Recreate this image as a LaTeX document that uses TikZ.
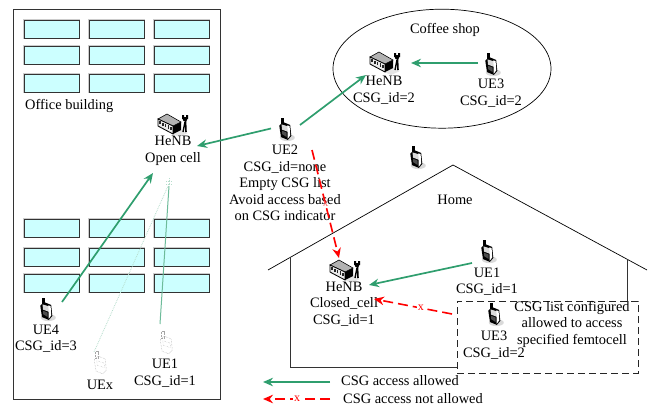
\documentclass[tikz,border=0pt]{standalone}
\usepackage{fontspec}
\setmainfont{Liberation Serif}
\usetikzlibrary{arrows.meta,shapes.geometric}
\definecolor{grn}{HTML}{2F9E6E}
\definecolor{win}{HTML}{CCFFFF}
\tikzset{
  lbl/.style={inner sep=0pt,font=\fontsize{14.4}{16.5}\selectfont,align=center},
  wnd/.style={draw=black!80,fill=win,line width=0.9pt},
  okarrow/.style={draw=grn,line width=1.7pt,-{Stealth[length=10pt,width=8.5pt]}},
  noarrow/.style={draw=red,line width=1.6pt,dash pattern=on 10pt off 5pt,-{Stealth[length=10pt,width=8.5pt]}},
  xmark/.style={inner sep=1pt,fill=white,text=red,font=\fontsize{12}{12}\selectfont},
  pics/phone/.style={code={
    \begin{scope}[scale=1.15]
    \fill[black!25,opacity=.6] (2,7.5) ellipse (6.5 and 3);
    \fill[black] (-5,-3) -- (-1.5,-6) -- (4.5,-3.5) -- (5.5,6) -- (2.5,9.5) -- (-3.5,7) -- cycle;
    \fill[black] (-3.8,-10) rectangle (-1.2,-4);
    \fill[white!85!black] (-3,-4) -- (3.5,-2) -- (4,3) -- (-2.6,.5) -- cycle;
    \fill[white] (4,-2.5) -- (4.6,5.5) -- (2.4,8.5) -- (2.1,-3.2) -- cycle;
    \fill[black!70] (-2.6,1.5) -- (1.3,3) -- (1.5,7) -- (-2.4,4.5) -- cycle;
    \end{scope}
  }},
  pics/fadedphone/.style={code={
    \begin{scope}[scale=1.15]
    \draw[black!35,line width=.5pt,densely dotted] (-5,-3) -- (-1.5,-6) -- (4.5,-3.5) -- (5.5,6) -- (2.5,9.5) -- (-3.5,7) -- cycle;
    \draw[black!35,line width=.5pt,densely dotted] (-3.8,-10) rectangle (-1.2,-4);
    \draw[black!30,line width=.4pt,densely dotted] (-2.8,-2) -- (3.5,0) -- (4,4) -- (-2.4,2) -- cycle;
    \end{scope}
  }},
  pics/router/.style={code={
    \fill[black!20,opacity=.5] (-14,3) -- (7,13) -- (16,9) -- (-4,0) -- cycle;
    \fill[black!30,draw=black,line width=.6pt] (-14,-5) -- (-5,-10) -- (9,-2) -- (1,2) -- cycle;
    \fill[white!92!black,draw=black,line width=.8pt] (-14,-5) -- (1,2) -- (1,10) -- (-14,2) -- cycle;
    \fill[black] (1,2) -- (9,-2) -- (9,6) -- (1,10) -- cycle;
    \foreach \i in {0,...,4}{\fill[black!85] (-12.8+2.8*\i,-2.8+1.4*\i) rectangle +(1.5,3.2);}
    \draw[black,line width=1.4pt] (11,8) -- (13,-2);
    \draw[black,line width=1.6pt] (14,8) -- (13.5,-3);
    \fill[black] (10,-9) rectangle (12,-5) (14,-9) rectangle (16,-5);
    \fill[black] (10,-7) -- (16,-7) -- (14.5,-3) -- (11.5,-3) -- cycle;
  }},
}
\begin{document}
\begin{tikzpicture}[x=1pt,y=-1pt]
\useasboundingbox (0,0) rectangle (649,407);
% office
\node[draw=black!80,line width=.9pt,minimum width=206.5pt,minimum height=389.5pt,inner sep=0pt] (office) at (116.7,204.2) {};
\foreach \x/\n in {24/a,89/b,154/c}{
  \foreach \y/\m in {20/a,46/b,74/c,219/d,248/e,274/f}{
    \fill[black!20] (\x-1,\y-1) rectangle +(57,20);
    \node[wnd,minimum width=55pt,minimum height=18pt,inner sep=0pt,anchor=north west] (w\n\m) at (\x,\y) {};
  }
}
\node[lbl,anchor=west] (officelbl) at (25,106) {Office building};
% coffee shop
\node[draw=black,line width=.7pt,ellipse,minimum width=218pt,minimum height=119pt,inner sep=0pt] (coffee) at (442,68.7) {};
\node[lbl] (coffeelbl) at (445,30) {Coffee shop};
% house
\coordinate (roofl) at (268,270);
\coordinate (roofp) at (453,165);
\coordinate (roofr) at (647,270);
\draw[line width=.7pt] (roofl) -- (roofp) -- (roofr);
\coordinate (walltl) at (290,257);
\coordinate (wallbl) at (290,367);
\coordinate (wallbr) at (457,367);
\coordinate (walltr) at (627,259);
\coordinate (wallmr) at (627,301);
\draw[line width=.8pt,black!80] (walltl) -- (wallbl) -- (wallbr);
\draw[line width=.8pt,black!80] (walltr) -- (wallmr);
\node[lbl] (homelbl) at (455,200) {Home};
% dashed box
\node[draw=black!85,line width=.9pt,dash pattern=on 7pt off 4pt,minimum width=181pt,minimum height=72pt,inner sep=0pt] (dbox) at (547.5,337) {};
% icons
\path pic at (172,124) {router}; \coordinate (rO) at (197,146);
\path pic at (384,62) {router}; \coordinate (rC) at (366,75);
\path pic at (344,270) {router};
\path pic at (285,129) {phone};
\path pic at (491,64) {phone};
\path pic at (416,157) {phone};
\path pic at (487,251) {phone};
\path pic at (494,314) {phone};
\path pic at (46,309) {phone};
\path pic at (100,363) {fadedphone};
\path pic at (166,343) {fadedphone};
% faded mast
\draw[grn!35,line width=.6pt,densely dotted] (169,178) -- (169,186) (166,181) -- (172,181) (166,184) -- (172,184);
% labels
\node[lbl] (t1) at (173,151) {HeNB\\Open cell};
\node[lbl] (t2) at (285,183) {UE2\\CSG\_id=none\\Empty CSG list\\Avoid access based\\on CSG indicator};
\node[lbl] (t3) at (384,90) {HeNB\\CSG\_id=2};
\node[lbl] (t4) at (491,93) {UE3\\CSG\_id=2};
\node[lbl] (t5) at (487,281.5) {UE1\\CSG\_id=1};
\node[lbl] (t6) at (344,304) {HeNB\\Closed\_cell\\CSG\_id=1};
\node[lbl] (t7) at (494,345) {UE3\\CSG\_id=2};
\node[lbl] (t8) at (572,324) {CSG list configured\\allowed to access\\specified femtocell};
\node[lbl] (t9) at (46,338.5) {UE4\\CSG\_id=3};
\node[lbl] (t10) at (100,385) {UEx};
\node[lbl] (t11) at (165,373) {UE1\\CSG\_id=1};
\node[lbl,anchor=west] (leg1) at (341,381) {CSG access allowed};
\node[lbl,anchor=west] (leg2) at (343,399) {CSG access not allowed};
% connectors
\coordinate (ue2l) at (271,128.5); \coordinate (ue2r) at (300,125);
\coordinate (c3a) at (478,63); \coordinate (c3b) at (411,63);
\coordinate (u1a) at (472,263); \coordinate (u1b) at (369,285);
\coordinate (u4a) at (62,302); \coordinate (u4b) at (153,173);
\coordinate (exa) at (94,352); \coordinate (exb) at (168,186);
\coordinate (ofa) at (160,324); \coordinate (ofb) at (169,186);
\coordinate (rea) at (312,150); \coordinate (reb) at (339,258);
\coordinate (rha) at (452,314); \coordinate (rhb) at (374,299);
\draw[okarrow] (ue2l) -- (rO);
\draw[okarrow] (ue2r) -- (rC);
\draw[okarrow] (c3a) -- (c3b);
\draw[okarrow] (u1a) -- (u1b);
\draw[okarrow] (u4a) -- (u4b);
\draw[grn!35,line width=.8pt,densely dotted] (exa) -- (exb);
\draw[grn!70,line width=1pt] (ofa) -- (ofb);
\draw[noarrow] (rea) -- node[pos=.5,inner sep=0pt,text=red!60,font=\fontsize{11}{11}\selectfont] (x0) {x} (reb);
\draw[noarrow] (rha) -- node[pos=.4,xmark] (x1) {x} (rhb);
% legend
\coordinate (la) at (330,382); \coordinate (lb) at (263,382);
\coordinate (lc) at (330,399); \coordinate (ld) at (263,399);
\draw[okarrow] (la) -- (lb);
\draw[noarrow] (lc) -- node[pos=.49,xmark] (x2) {x} (ld);
\end{tikzpicture}
\end{document}
